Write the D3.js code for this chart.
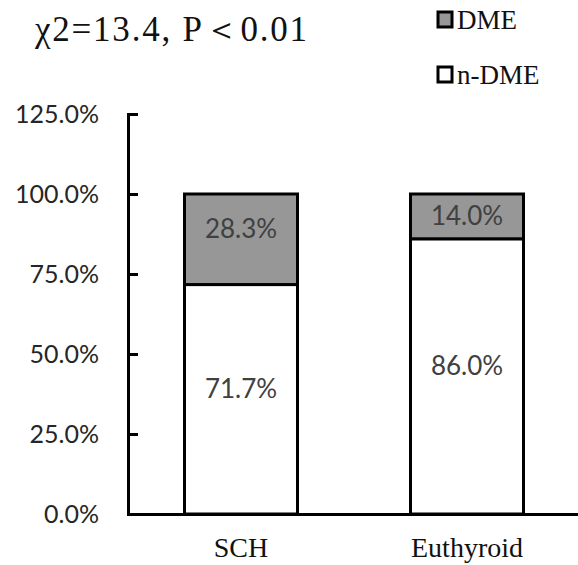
<!DOCTYPE html>
<html>
<head>
<meta charset="utf-8">
<script src="https://cdn.jsdelivr.net/npm/d3@7"></script>
<style>
body { margin: 0; background: #fff; }
.serif { font-family: "Liberation Serif", "Times New Roman", serif; }
.sans { font-family: Lato, "Open Sans", sans-serif; }
</style>
</head>
<body>
<svg id="chart" width="578" height="565"></svg>
<script>
// data
const categories = ['SCH', 'Euthyroid'];
const dme = [28.3, 14.0];
const nDme = [71.7, 86.0];
const yTicks = [0, 25, 50, 75, 100, 125];
const seriesNames = ['DME', 'n-DME'];
const seriesColors = ['#979797', '#ffffff'];

const svg = d3.select('#chart');
const plotLeft = 128, plotRight = 580, plotTop = 114, plotBottom = 514;

let x = d3.scaleBand().domain(categories).range([plotLeft, plotRight]).paddingInner(0).paddingOuter(0);
let y = d3.scaleLinear().domain([0, 125]).range([plotBottom, plotTop]);

// y axis, ticks pointing inward
let yAxis = d3.axisRight(y).tickValues(yTicks).tickSize(10).tickFormat('');
let gy = svg.append('g').attr('transform', 'translate(' + plotLeft + ',0)').call(yAxis);
gy.select('.domain').attr('stroke', '#000').attr('stroke-width', 3);
gy.selectAll('.tick line').attr('stroke', '#000').attr('stroke-width', 3);

svg.selectAll('.ylab').data(yTicks).enter().append('text')
    .attr('class', 'sans')
    .attr('x', 99)
    .attr('y', d => y(d) + 9)
    .attr('text-anchor', 'end')
    .attr('font-size', 25)
    .attr('fill', '#262626')
    .text(d => d.toFixed(1) + '%');

// label sits a bit above the middle of tall segments, centred in short ones
function labelY(y0, y1) {
    let mid = (y0 + y1) / 2;
    let shift = Math.abs(y1 - y0) < 60 ? 0 : 10;
    return mid - shift + 9;
}

// stacked bars
let bw = x.bandwidth() / 2;
categories.forEach(function(c, i) {
    let x0 = x(c) + x.bandwidth() / 4;
    svg.append('rect')
        .attr('x', x0).attr('y', y(nDme[i]))
        .attr('width', bw).attr('height', y(0) - y(nDme[i]))
        .attr('fill', seriesColors[1]).attr('stroke', '#000').attr('stroke-width', 3);
    svg.append('rect')
        .attr('x', x0).attr('y', y(nDme[i] + dme[i]))
        .attr('width', bw).attr('height', y(nDme[i]) - y(nDme[i] + dme[i]))
        .attr('fill', seriesColors[0]).attr('stroke', '#000').attr('stroke-width', 3);
    let cx = x(c) + x.bandwidth() / 2;
    svg.append('text')
        .attr('class', 'sans')
        .attr('x', cx).attr('y', labelY(y(nDme[i]), y(nDme[i] + dme[i])))
        .attr('text-anchor', 'middle')
        .attr('font-size', 26).attr('fill', '#404040')
        .text(dme[i].toFixed(1) + '%');
    svg.append('text')
        .attr('class', 'sans')
        .attr('x', cx).attr('y', labelY(y(0), y(nDme[i])))
        .attr('text-anchor', 'middle')
        .attr('font-size', 26).attr('fill', '#404040')
        .text(nDme[i].toFixed(1) + '%');
});

// x axis
let xAxis = d3.axisBottom(x).tickSize(0).tickFormat('');
let gx = svg.append('g').attr('transform', 'translate(0,' + plotBottom + ')').call(xAxis);
gx.select('.domain').attr('stroke', '#000').attr('stroke-width', 3);

svg.selectAll('.xlab').data(categories).enter().append('text')
    .attr('class', 'serif')
    .attr('x', d => x(d) + x.bandwidth() / 2)
    .attr('y', 557)
    .attr('text-anchor', 'middle')
    .attr('font-size', 28)
    .attr('fill', '#111')
    .text(d => d);

// title
let title = svg.append('text')
    .attr('class', 'serif')
    .attr('x', 35).attr('y', 41)
    .attr('font-size', 35)
    .attr('fill', '#111')
    .attr('textLength', 272)
    .attr('lengthAdjust', 'spacing');
title.append('tspan').text('χ');
title.append('tspan').text('2=13.4,  P＜0.01');

// legend
seriesNames.forEach(function(n, i) {
    let ly = 12 + i * 55;
    svg.append('rect')
        .attr('x', 438).attr('y', ly).attr('width', 14).attr('height', 15)
        .attr('fill', seriesColors[i]).attr('stroke', '#000').attr('stroke-width', 3);
    svg.append('text')
        .attr('class', 'serif')
        .attr('x', 457).attr('y', ly + 17)
        .attr('font-size', 27)
        .attr('fill', '#111')
        .text(n);
});
</script>
</body>
</html>
